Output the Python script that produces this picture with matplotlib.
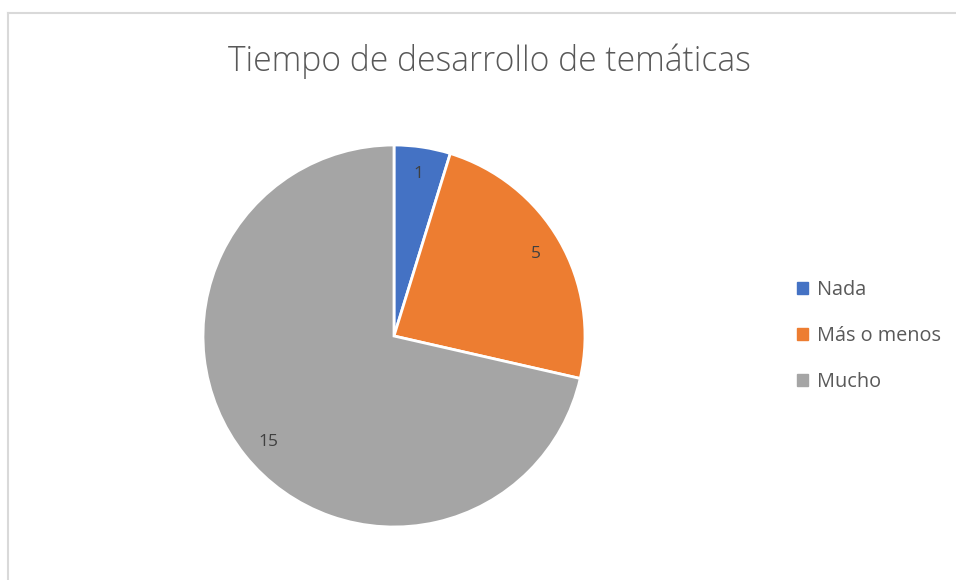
import matplotlib
matplotlib.use("Agg")
import matplotlib.pyplot as plt
import matplotlib.patches as mpatches
import numpy as np

categories = ["Nada", "Más o menos", "Mucho"]
values = [1, 5, 15]
colors = ["#4472C4", "#ED7D31", "#A5A5A5"]
title = "Tiempo de desarrollo de temáticas"

plt.rcParams['font.family'] = ['Open Sans', 'DejaVu Sans']

W, H = 956, 580
fig = plt.figure(figsize=(W/100, H/100), dpi=100)

# border
fig.add_artist(plt.Line2D([8/W, 8/W], [0, 1-13/H], color="#D9D9D9", lw=1.5))
fig.add_artist(plt.Line2D([8/W, 1], [1-13/H, 1-13/H], color="#D9D9D9", lw=1.5))

cx, cy, r = 394, 336, 191
ax = fig.add_axes([(cx-r)/W, (H-cy-r)/H, 2*r/W, 2*r/H])
wedges, texts, autotexts = ax.pie(values, colors=colors, startangle=90, counterclock=False,
       radius=1, autopct=lambda p: f"{p*sum(values)/100:.0f}", pctdistance=0.86,
       wedgeprops=dict(edgecolor="white", linewidth=2),
       textprops=dict(color="#404040", fontsize=12.5))
# Excel best-fit position for the big slice label
ang = np.deg2rad(220.3)
autotexts[2].set_position((0.86*np.cos(ang), 0.86*np.sin(ang)))
ax.set_xlim(-1, 1); ax.set_ylim(-1, 1)
ax.set_aspect('equal')
ax.axis('off')

fig.text(489/W, 1-61/H, title, ha="center", va="center", fontsize=24.2,
         color="#595959", fontweight="light")

handles = [mpatches.Patch(color=c, label=l) for c, l in zip(colors, categories)]
leg = fig.legend(handles=handles, loc="center left", bbox_to_anchor=(779/W, 1-336/H),
                 frameon=False, handlelength=0.55, handleheight=0.55, handletextpad=0.45,
                 labelspacing=1.3, fontsize=14.3, labelcolor="#595959")

fig.savefig("out.png", dpi=100)
